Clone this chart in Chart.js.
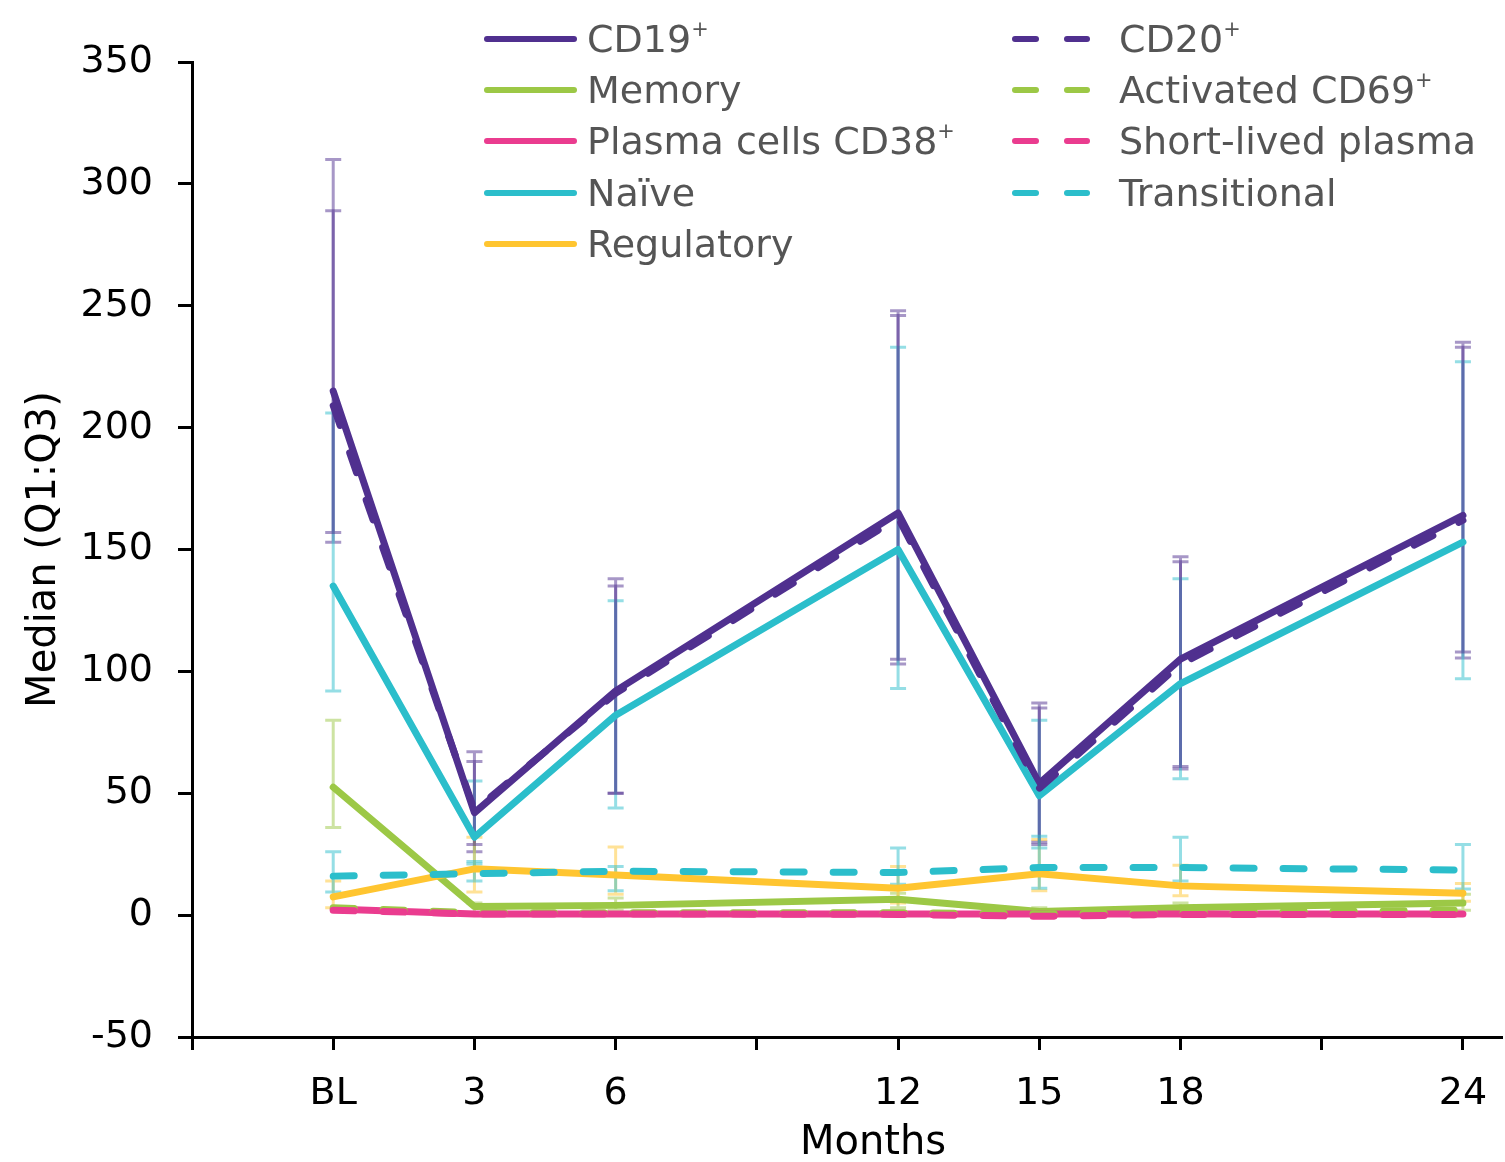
<!DOCTYPE html>
<html>
<head>
<meta charset="utf-8">
<script src="https://cdn.jsdelivr.net/npm/chart.js@4/dist/chart.umd.min.js"></script>
<style>
html,body{margin:0;padding:0;background:#fff;}
#wrap{position:relative;width:1505px;height:1162px;overflow:hidden;}
#c{position:absolute;left:0;top:0;}
#legend{position:absolute;left:0;top:0;width:1505px;height:300px;font-family:'DejaVu Sans',sans-serif;font-size:38px;color:#555;}
.item{position:absolute;height:50px;display:flex;align-items:center;white-space:nowrap;}
.item svg{display:block;flex:none;}
.sup{font-size:55%;position:relative;top:-0.75em;}
#xtitle{position:absolute;left:673px;width:400px;top:1118px;height:44px;line-height:44px;text-align:center;font-family:'DejaVu Sans',sans-serif;font-size:40px;color:#000;}
</style>
</head>
<body>
<div id="wrap">
<canvas id="c" width="1505" height="1162"></canvas>
<div id="legend"></div>
<div id="xtitle"></div>
</div>
<script>
// ---- data ----
const months = [0, 3, 6, 12, 15, 18, 24];
const xTicks = [-3, 0, 3, 6, 9, 12, 15, 18, 21, 24];
const xTickLabels = ['', 'BL', '3', '6', '', '12', '15', '18', '', '24'];
const xTitle = 'Months';
const yTitle = 'Median (Q1:Q3)';

const cd19 = [215, 42, 92, 165, 54, 105, 164];
const cd19Q1 = [153, 26, 50, 103, 30, 60, 105.5];
const cd19Q3 = [310, 67, 138, 248, 87, 147, 235];

const cd20 = [209, 43, 91, 163, 52, 103, 162];
const cd20Q1 = [157, 29, 50, 105, 29, 61, 108];
const cd20Q3 = [289, 63, 135, 246, 85, 145, 233];

const memory = [52.5, 3.5, 4, 6.5, 1.5, 3, 5];
const memoryQ1 = [36, 1, 2, 3, 0.5, 1, 2];
const memoryQ3 = [80, 5, 7, 9, 3, 5, 8.6];

const activated = [3, 1, 1, 1, 0.5, 1, 2];

const plasma = [2.5, 0.5, 0.5, 0.5, 0.5, 0.5, 0.5];
const shortLived = [2, 0.5, 0.5, 0.3, -0.5, 0.3, 0.3];

const naive = [135, 32, 82, 150, 49, 95, 153];
const naiveQ1 = [92, 21, 44, 93, 27.5, 56, 97];
const naiveQ3 = [206, 55, 129, 233, 80, 138, 227];

const transitional = [16, 17, 18, 17.5, 19.5, 19.5, 18.5];
const transitionalQ1 = [9.5, 14, 10, 12.7, 11, 14, 10.7];
const transitionalQ3 = [26, 22, 20, 27.5, 32.4, 32, 29];

const regulatory = [7.5, 19, 16.5, 11, 17, 12, 9];
const regulatoryQ1 = [3, 9.5, 8.6, 5, 10, 8, 5.7];
const regulatoryQ3 = [14, 32, 28, 20, 31, 20.5, 13];

// ---- styling ----
const PURPLE = '#50308f', GREEN = '#9cc846', PINK = '#ea3c8f', CYAN = '#2bbecb', YELLOW = '#ffc530';
function alpha(hex, a){
  const n = parseInt(hex.slice(1), 16);
  return `rgba(${(n>>16)&255},${(n>>8)&255},${n&255},${a})`;
}

const series = [
  {name:'CD19+', data:cd19, q1:cd19Q1, q3:cd19Q3, color:PURPLE, dash:false},
  {name:'Memory', data:memory, q1:memoryQ1, q3:memoryQ3, color:GREEN, dash:false},
  {name:'Plasma cells CD38+', data:plasma, color:PINK, dash:false},
  {name:'Naïve', data:naive, q1:naiveQ1, q3:naiveQ3, color:CYAN, dash:false},
  {name:'Regulatory', data:regulatory, q1:regulatoryQ1, q3:regulatoryQ3, color:YELLOW, dash:false},
  {name:'CD20+', data:cd20, q1:cd20Q1, q3:cd20Q3, color:PURPLE, dash:true},
  {name:'Activated CD69+', data:activated, color:GREEN, dash:true},
  {name:'Short-lived plasma', data:shortLived, color:PINK, dash:true},
  {name:'Transitional', data:transitional, q1:transitionalQ1, q3:transitionalQ3, color:CYAN, dash:true}
];

const errorBars = {
  id:'errorBars',
  beforeDatasetsDraw(chart){
    const {ctx} = chart;
    const x = chart.scales.x, y = chart.scales.y;
    chart.data.datasets.forEach(ds => {
      if (!ds.q1) return;
      ctx.save();
      ctx.strokeStyle = alpha(ds.borderColor, 0.5);
      ctx.lineWidth = 3;
      months.forEach((m, i) => {
        const lo = ds.q1[i], hi = ds.q3[i];
        if (lo == null || hi == null) return;
        const px = x.getPixelForValue(m);
        const y1 = y.getPixelForValue(lo), y2 = y.getPixelForValue(hi);
        ctx.beginPath();
        ctx.moveTo(px, y1); ctx.lineTo(px, y2);
        ctx.moveTo(px - 8, y1); ctx.lineTo(px + 8, y1);
        ctx.moveTo(px - 8, y2); ctx.lineTo(px + 8, y2);
        ctx.stroke();
      });
      ctx.restore();
    });
  }
};

const FONT = 'DejaVu Sans';

new Chart(document.getElementById('c'), {
  type:'line',
  data:{
    datasets: series.map((s, i) => ({
      label:s.name,
      data: months.map((m, j) => ({x:m, y:s.data[j]})),
      q1:s.q1, q3:s.q3,
      borderColor:s.color,
      backgroundColor:s.color,
      borderWidth:7,
      borderDash: s.dash ? [21, 29] : [],
      borderCapStyle:'round',
      borderJoinStyle:'round',
      pointRadius:0,
      tension:0,
      fill:false,
      order: s.dash ? 9 - i : 20 - i
    }))
  },
  options:{
    responsive:false,
    animation:false,
    devicePixelRatio:1,
    layout:{padding:{left:0, right:3, top:62, bottom:0}},
    plugins:{legend:{display:false}, tooltip:{enabled:false}},
    scales:{
      x:{
        type:'linear', min:-3, max:24.83,
        afterBuildTicks:(s) => { s.ticks = xTicks.map(v => ({value:v})); },
        afterFit:(s) => { s.height = 125; s.paddingLeft = 0; s.paddingRight = 0; },
        ticks:{
          autoSkip:false, maxRotation:0, minRotation:0, padding:21,
          color:'#000', font:{family:FONT, size:38},
          callback:(v) => { const k = xTicks.indexOf(v); return k >= 0 ? xTickLabels[k] : ''; }
        },
        grid:{drawOnChartArea:false, drawTicks:true, tickLength:13, tickColor:'#000', tickWidth:3},
        border:{display:true, color:'#000', width:3},
        title:{display:false}
      },
      y:{
        min:-50, max:350,
        afterFit:(s) => { s.width = 192; },
        ticks:{stepSize:50, padding:25, color:'#000', font:{family:FONT, size:38}},
        grid:{drawOnChartArea:false, drawTicks:true, tickLength:14, tickColor:'#000', tickWidth:3},
        border:{display:true, color:'#000', width:3},
        title:{display:true, text:yTitle, color:'#000', font:{family:FONT, size:40, lineHeight:1.2}, padding:{top:21, bottom:0}}
      }
    }
  },
  plugins:[errorBars]
});

document.getElementById('xtitle').textContent = xTitle;

// ---- legend (HTML, two columns) ----
const legend = document.getElementById('legend');
const rowY = [39, 90, 141, 193, 244];
let solidIdx = 0, dashIdx = 0;
series.forEach(s => {
  const row = s.dash ? dashIdx++ : solidIdx++;
  const div = document.createElement('div');
  div.className = 'item';
  const left = s.dash ? 1009 : 481;
  const swW = s.dash ? 110 : 106;
  div.style.left = left + 'px';
  div.style.top = (rowY[row] - 25) + 'px';
  const svg = s.dash
    ? `<svg width="${swW}" height="12"><line x1="6" y1="6" x2="27" y2="6" stroke="${s.color}" stroke-width="6" stroke-linecap="round"/><line x1="58" y1="6" x2="78" y2="6" stroke="${s.color}" stroke-width="6" stroke-linecap="round"/></svg>`
    : `<svg width="${swW}" height="12"><line x1="6" y1="6" x2="93" y2="6" stroke="${s.color}" stroke-width="6" stroke-linecap="round"/></svg>`;
  const label = s.name;
  const html = label.endsWith('+') ? label.slice(0, -1) + '<span class="sup">+</span>' : label;
  div.innerHTML = svg + '<span>' + html + '</span>';
  legend.appendChild(div);
});
</script>
</body>
</html>
